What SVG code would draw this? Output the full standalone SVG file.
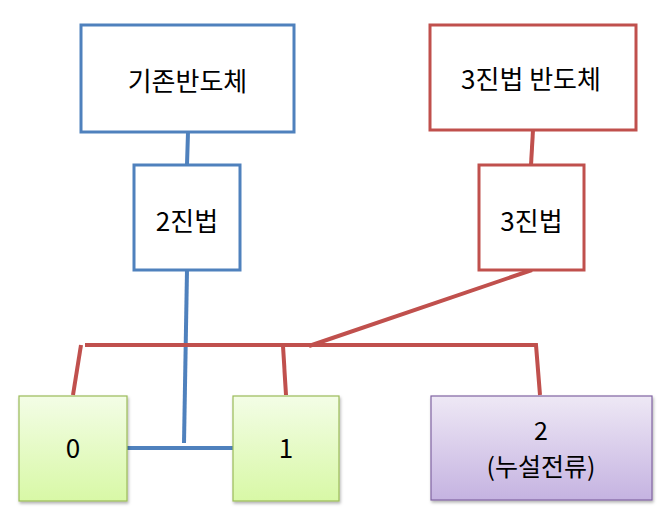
<svg xmlns="http://www.w3.org/2000/svg" width="668" height="515" viewBox="0 0 668 515">
<style>
.t{font-family:"Noto Sans CJK KR","Noto Sans",sans-serif;font-size:26px;fill:#000;text-anchor:middle}
.s{font-size:25px}
.bb{fill:#fff;stroke:#4f81bd;stroke-width:3}
.rb{fill:#fff;stroke:#c0504d;stroke-width:3}
.bl{stroke:#4f81bd;stroke-width:4;fill:none}
.rl{stroke:#c0504d;stroke-width:4;fill:none}
.g{fill:url(#gg);stroke:#9bbb59;stroke-width:1.2;filter:url(#sh)}
.p{fill:url(#pg);stroke:#8064a2;stroke-width:1.2;filter:url(#sh)}
</style>
<defs>
<linearGradient id="gg" x1="0" y1="0" x2="0" y2="1"><stop offset="0" stop-color="#f3fde6"/><stop offset="1" stop-color="#d8f8a6"/></linearGradient>
<linearGradient id="pg" x1="0" y1="0" x2="0" y2="1"><stop offset="0" stop-color="#eee8f5"/><stop offset="1" stop-color="#c5b3e1"/></linearGradient>
<filter id="sh" x="-10%" y="-10%" width="130%" height="130%"><feDropShadow dx="1" dy="2" stdDeviation="1.5" flood-color="#000" flood-opacity="0.3"/></filter>
</defs>
<g id="connectors">
<line class="bl" x1="188" y1="132" x2="187" y2="165"/>
<line class="bl" x1="187" y1="270" x2="184" y2="443"/>
<line class="bl" x1="127" y1="448" x2="233" y2="448"/>
<line class="rl" x1="533" y1="130" x2="531" y2="165"/>
<line class="rl" x1="532" y1="270" x2="309" y2="346"/>
<polyline class="rl" points="85,345 536,345 540,395"/>
<line class="rl" x1="81" y1="345" x2="73" y2="395"/>
<line class="rl" x1="283" y1="346" x2="286" y2="395"/>
</g>
<g id="n-old"><rect class="bb" x="81" y="25" width="213" height="107"/><text class="t" x="187.5" y="91">기존반도체</text></g>
<g id="n-bin"><rect class="bb" x="134" y="165" width="106" height="105"/><text class="t" x="187" y="231">2진법</text></g>
<g id="n-tri-semi"><rect class="rb" x="430" y="25" width="206" height="105"/><text class="t" x="531" y="89">3진법 반도체</text></g>
<g id="n-tri"><rect class="rb" x="479" y="165" width="105" height="105"/><text class="t" x="531.5" y="231">3진법</text></g>
<g id="n-0"><rect class="g" x="19" y="396" width="108" height="105"/><text class="t" x="73" y="458">0</text></g>
<g id="n-1"><rect class="g" x="233" y="396" width="106" height="105"/><text class="t" x="286" y="458">1</text></g>
<g id="n-2"><rect class="p" x="431" y="396" width="221" height="104"/><text class="t s" x="541" y="440">2</text><text class="t s" x="541" y="476">(누설전류)</text></g>
</svg>
